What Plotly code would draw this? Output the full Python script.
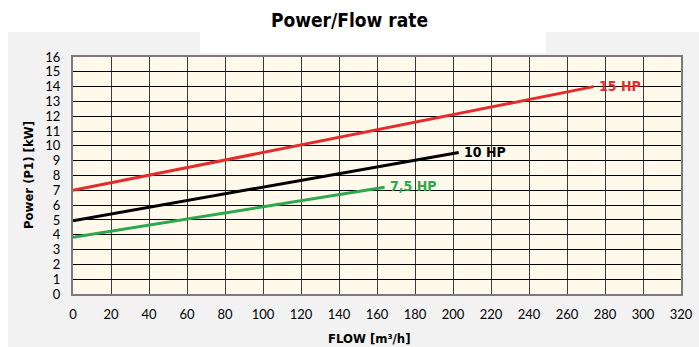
import plotly.graph_objects as go

# data
hp15_flow = [0, 274]
hp15_power = [7.0, 14.0]
hp10_flow = [0, 203]
hp10_power = [4.95, 9.55]
hp75_flow = [0, 164]
hp75_power = [3.83, 7.2]

x_ticks = list(range(0, 321, 20))
y_ticks = list(range(0, 17))

RED = "#e52b2b"
BLACK = "#000000"
GREEN = "#2ea84e"
NARROW = "DejaVu Sans Condensed, Liberation Sans Narrow, Arial Narrow, sans-serif"

fig = go.Figure()
for xs, ys, col, name in [(hp15_flow, hp15_power, RED, "15 HP"),
                          (hp10_flow, hp10_power, BLACK, "10 HP"),
                          (hp75_flow, hp75_power, GREEN, "7,5 HP")]:
    fig.add_scatter(x=xs, y=ys, mode="lines", line=dict(color=col, width=3),
                    showlegend=False, hoverinfo="skip")
    fig.add_annotation(x=xs[-1], y=ys[-1], text="<b>%s</b>" % name, showarrow=False,
                       xanchor="left", xshift=3, yshift=1,
                       font=dict(family=NARROW, size=14, color=col))

# axis titles as annotations (fixed place, no automargin)
fig.add_annotation(xref="paper", yref="paper", x=0.488, y=-0.186, yanchor="middle",
                   text="<b>FLOW [m³/h]</b>", showarrow=False, font=dict(family=NARROW, size=13))
fig.add_annotation(xref="paper", yref="paper", x=-0.074, y=0.502, xanchor="center", yanchor="middle",
                   text="<b>Power (P1) [kW]</b>", textangle=-90, showarrow=False,
                   font=dict(family=NARROW, size=13))

# white strips top/left and white box behind the title, grey everywhere else
fig.add_shape(type="rect", xref="paper", yref="paper", x0=-0.2, x1=1.1, y0=1.105, y1=1.3,
              fillcolor="white", line_width=0, layer="below")
fig.add_shape(type="rect", xref="paper", yref="paper", x0=-0.2, x1=-0.107, y0=-0.3, y1=1.3,
              fillcolor="white", line_width=0, layer="below")
fig.add_shape(type="rect", xref="paper", yref="paper", x0=0.209, x1=0.778, y0=1.017, y1=1.11,
              fillcolor="white", line_width=0, layer="below")

fig.update_layout(
    width=699, height=347,
    margin=dict(l=73, r=18, t=57, b=53),
    paper_bgcolor="#f2f2f2",
    plot_bgcolor="#fff9ec",
    title=dict(text="<b>Power/Flow rate</b>", x=0.5, xanchor="center", y=0.942, yanchor="middle",
               font=dict(family=NARROW, size=19, color="black")),
    font=dict(family="Lato", size=13, color="black"),
)
fig.update_xaxes(range=[0, 320], tickvals=x_ticks, showgrid=True, gridcolor="#3c3c3c", gridwidth=1.2,
                 zeroline=False, showline=True, linecolor="#7a7a7a", linewidth=2, mirror=True,
                 ticks="outside", ticklen=7, tickcolor="rgba(0,0,0,0)", automargin=False)
fig.update_yaxes(range=[0, 16], tickvals=y_ticks, showgrid=True, gridcolor="#000000", gridwidth=1,
                 zeroline=False, showline=True, linecolor="#7a7a7a", linewidth=2, mirror=True,
                 ticks="outside", ticklen=8, tickcolor="rgba(0,0,0,0)", automargin=False)

# drop the default body margin so the figure sits at the window corner
fig.write_html("out.html", config={"displayModeBar": False},
               post_script="document.body.style.margin='0';document.body.style.overflow='hidden';")
